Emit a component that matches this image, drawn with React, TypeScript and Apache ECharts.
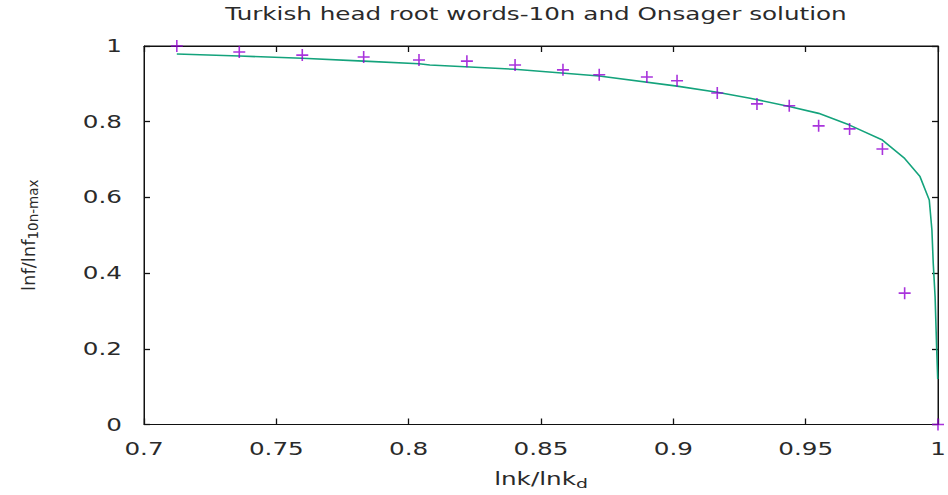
import React, { useEffect, useRef } from "react";
import * as echarts from "echarts";

// Measured points: lnk/lnk_d vs lnf/lnf_10n-max
const dataX = [0.7124, 0.736, 0.7598, 0.783, 0.8039, 0.822, 0.8402, 0.8583, 0.872, 0.89, 0.9014, 0.9166, 0.9316, 0.9438, 0.9549, 0.9666, 0.979, 0.9874, 1.0];
const dataY = [1.0, 0.984, 0.976, 0.971, 0.963, 0.96, 0.95, 0.937, 0.924, 0.918, 0.908, 0.876, 0.847, 0.842, 0.789, 0.781, 0.728, 0.347, 0.0];

// Onsager solution curve
const curveX = [0.7124, 0.736, 0.7598, 0.783, 0.8039, 0.808, 0.84, 0.872, 0.9014, 0.9166, 0.929, 0.9438, 0.9549, 0.9666, 0.979, 0.9874, 0.9932, 0.9967, 0.9977, 0.9982, 0.9989, 0.9995, 0.9999];
const curveY = [0.979, 0.9736, 0.9675, 0.96, 0.953, 0.9498, 0.9385, 0.9207, 0.894, 0.878, 0.862, 0.84, 0.822, 0.791, 0.7516, 0.703, 0.655, 0.593, 0.514, 0.426, 0.338, 0.2, 0.12];

const xTickLabels = [0.7, 0.75, 0.8, 0.85, 0.9, 0.95, 1];
const yTickLabels = [0, 0.2, 0.4, 0.6, 0.8, 1];

const titleText = "Turkish head root words-10n and Onsager solution";

const FONT = "DejaVu Sans";
const TEXT_COLOR = "#2a2a2a";
const FRAME_COLOR = "#111";
const STRETCH = 1.45; // wide lettering
const TICK_LEN = 6;
const CROSS = "path://M0,5.2H5.2V0H6.8V5.2H12V6.8H6.8V12H5.2V6.8H0Z";

export default function App() {
  const ref = useRef<HTMLDivElement>(null);

  useEffect(() => {
    document.body.style.margin = "0";
    if (!ref.current) return;
    const chart = echarts.init(ref.current, null, { renderer: "svg" });

    const frame = { show: true, onZero: false, lineStyle: { color: FRAME_COLOR, width: 1 } };
    const tickIn = { show: true, inside: true, length: TICK_LEN, lineStyle: { color: FRAME_COLOR, width: 1.3 } };
    const xRange = { min: 0.7, max: 1, interval: 0.05 };
    const yRange = { min: 0, max: 1, interval: 0.2 };
    const common = { axisLine: frame, axisTick: tickIn, splitLine: { show: false }, axisLabel: { show: false } };

    chart.setOption({
      animation: false,
      backgroundColor: "#fff",
      grid: {
        left: 144,
        right: 10,
        top: 46,
        bottom: 70.5,
        show: true,
        borderColor: FRAME_COLOR,
        borderWidth: 1,
        backgroundColor: "transparent",
      },
      xAxis: [
        { type: "value", ...xRange, position: "bottom", ...common },
        { type: "value", ...xRange, position: "top", ...common },
      ],
      yAxis: [
        { type: "value", ...yRange, position: "left", ...common },
        { type: "value", ...yRange, position: "right", ...common },
      ],
      series: [
        {
          type: "line",
          data: curveX.map((x, i) => [x, curveY[i]]),
          showSymbol: false,
          smooth: false,
          lineStyle: { color: "#14a37c", width: 1.6 },
          z: 2,
        },
        {
          type: "scatter",
          data: dataX.map((x, i) => [x, dataY[i]]),
          symbol: CROSS,
          symbolSize: 12,
          itemStyle: { color: "#9400d3" },
          clip: false,
          z: 3,
        },
      ],
    });

    // Tick labels and titles, placed from the axes' own scales
    const fmt = (v: number) => String(+v.toFixed(2));
    const px = (v: number) => chart.convertToPixel({ xAxisIndex: 0 }, v) as number;
    const py = (v: number) => chart.convertToPixel({ yAxisIndex: 0 }, v) as number;
    const yBase = py(0);
    const yTop = py(1);
    const xLeft = px(0.7);
    const xRight = px(1);
    const xMid = (xLeft + xRight) / 2;
    const yMid = (yBase + yTop) / 2;

    const tickText = (x: number, y: number, text: string, align: string) => ({
      type: "text",
      x,
      y,
      scaleX: STRETCH,
      silent: true,
      style: { text, fill: TEXT_COLOR, font: `17px "${FONT}"`, align, verticalAlign: "middle" },
    });

    const graphics: any[] = [
      ...xTickLabels.map((v) => tickText(px(v), yBase + 24, fmt(v), "center")),
      ...yTickLabels.map((v) => tickText(xLeft - 22, py(v), fmt(v), "right")),
      {
        type: "text",
        x: xMid - 5,
        y: 14,
        scaleX: STRETCH,
        style: { text: titleText, fill: TEXT_COLOR, font: `17px "${FONT}"`, align: "center", verticalAlign: "middle" },
      },
      {
        type: "text",
        x: xMid,
        y: yBase + 54,
        scaleX: STRETCH,
        style: {
          text: "{m|lnk/lnk}{s|d}",
          align: "center",
          verticalAlign: "middle",
          rich: {
            m: { fill: TEXT_COLOR, fontFamily: FONT, fontSize: 17 },
            s: { fill: TEXT_COLOR, fontFamily: FONT, fontSize: 13, padding: [10, 0, 0, 0] },
          },
        },
      },
      {
        type: "text",
        x: 28,
        y: yMid,
        rotation: Math.PI / 2,
        style: {
          text: "{m|lnf/lnf}{s|10n-max}",
          align: "center",
          verticalAlign: "middle",
          rich: {
            m: { fill: TEXT_COLOR, fontFamily: FONT, fontSize: 18 },
            s: { fill: TEXT_COLOR, fontFamily: FONT, fontSize: 13.5, padding: [10, 0, 0, 0] },
          },
        },
      },
    ];

    chart.setOption({ graphic: graphics });

    return () => chart.dispose();
  }, []);

  return <div ref={ref} style={{ width: 948, height: 495 }} />;
}
